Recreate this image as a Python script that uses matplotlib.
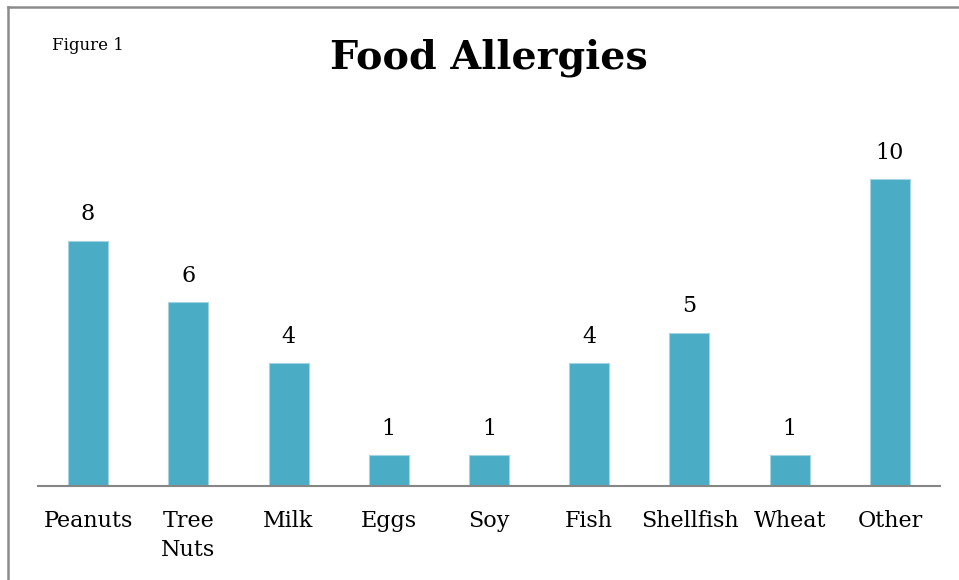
import matplotlib
matplotlib.use('Agg')
import matplotlib.pyplot as plt
from matplotlib.lines import Line2D

# Donnees
categories = ['Peanuts', 'Tree\nNuts', 'Milk', 'Eggs', 'Soy', 'Fish', 'Shellfish', 'Wheat', 'Other']
counts = [8, 6, 4, 1, 1, 4, 5, 1, 10]

BAR_COLOR = '#4BACC6'
FONT = 'DejaVu Serif'

W, H = 959, 580
fig = plt.figure(figsize=(W / 100, H / 100), dpi=100)

# axes: x 38..940 px, y 118..486 px
ax = fig.add_axes([38 / W, 1 - 486 / H, (940 - 38) / W, (486 - 118) / H])
x = range(len(categories))
bars = ax.bar(x, counts, width=0.4, color=BAR_COLOR, edgecolor='#A5D3E0', linewidth=0.8)
ax.set_xlim(-0.5, len(categories) - 0.5)
ax.set_ylim(0, 12)

for xi, v in zip(x, counts):
    ax.annotate(str(v), (xi, v), textcoords='offset points', xytext=(0, 11),
                ha='center', va='bottom', fontsize=16, family=FONT)

ax.set_xticks(list(x))
ax.set_xticklabels(categories, fontsize=16, family=FONT, linespacing=1.45, va='top')
ax.tick_params(axis='x', length=0, pad=17)
ax.set_yticks([])
for s in ['top', 'right', 'left']:
    ax.spines[s].set_visible(False)
ax.spines['bottom'].set_color('#868686')
ax.spines['bottom'].set_linewidth(1.5)

# Titre et etiquette
fig.text(489 / W, 1 - 58 / H, 'Food Allergies', ha='center', va='center',
         fontsize=28.5, fontweight='bold', family=FONT)
fig.text(52 / W, 1 - 45 / H, 'Figure 1', ha='left', va='center',
         fontsize=12, family=FONT)

# Bordure (haut et gauche visibles)
fig.add_artist(Line2D([8 / W, 1], [1 - 7 / H, 1 - 7 / H], color='#8C8C8C', linewidth=1.8,
                      transform=fig.transFigure))
fig.add_artist(Line2D([8 / W, 8 / W], [0, 1 - 7 / H], color='#8C8C8C', linewidth=1.8,
                      transform=fig.transFigure))

fig.savefig('out.png', dpi=100)
